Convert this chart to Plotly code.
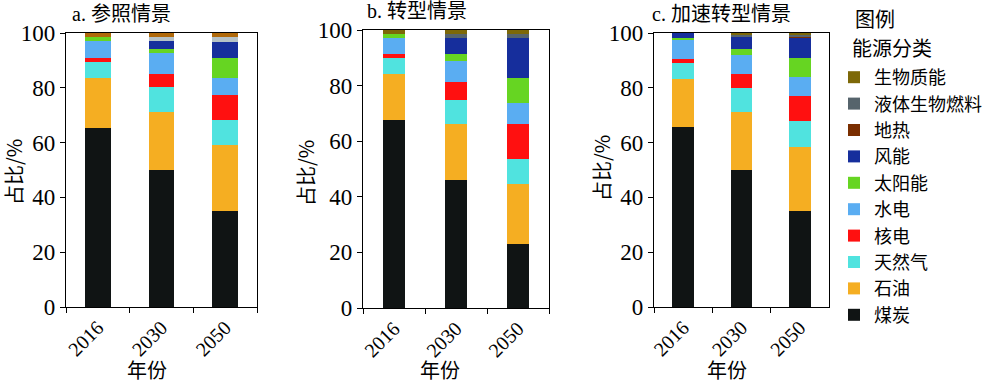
import plotly.graph_objects as go
from plotly.subplots import make_subplots

years = ["2016", "2030", "2050"]
categories = ["煤炭", "石油", "天然气", "核电", "水电", "太阳能", "风能", "地热", "液体生物燃料", "生物质能"]
colors = ["#101414", "#F5AE22", "#50E3DF", "#FF1010", "#5AADF2", "#66D522", "#162E9C", "#7A2E00", "#56646C", "#7D6808"]
colors_a = ["#101414", "#F5AE22", "#50E3DF", "#FF1010", "#5AADF2", "#66D522", "#162E9C", "#7A2E00", "#B5C1C6", "#B0690A"]

panel_titles = ["a. 参照情景", "b. 转型情景", "c. 加速转型情景"]
y_ticks = [0, 20, 40, 60, 80, 100]

# values per year, in the order of `categories`
a_2016 = [65.3, 18.1, 6.0, 1.6, 6.0, 1.5, 0.0, 0.0, 0.0, 1.5]
a_2030 = [50.0, 21.3, 8.9, 4.7, 7.7, 1.4, 2.9, 0.0, 1.6, 1.5]
a_2050 = [34.9, 24.2, 9.1, 9.1, 6.1, 7.6, 5.8, 0.0, 1.6, 1.6]

b_2016 = [67.5, 16.6, 5.7, 1.5, 5.8, 1.3, 0.0, 0.0, 0.0, 1.6]
b_2030 = [46.0, 20.1, 8.9, 6.2, 7.5, 2.7, 5.8, 0.0, 1.3, 1.5]
b_2050 = [23.2, 21.4, 9.1, 12.4, 7.7, 9.0, 14.3, 0.0, 1.4, 1.5]

c_2016 = [65.8, 17.3, 6.1, 1.3, 7.1, 0.5, 1.9, 0.0, 0.0, 0.0]
c_2030 = [50.0, 21.3, 8.5, 5.2, 7.1, 2.2, 4.1, 0.0, 0.8, 0.8]
c_2050 = [35.2, 23.2, 9.6, 9.0, 6.9, 6.9, 7.4, 0.3, 0.8, 0.7]

panels = [
    (a_2016, a_2030, a_2050),
    (b_2016, b_2030, b_2050),
    (c_2016, c_2030, c_2050),
]
panel_colors = [colors_a, colors, colors]
bar_widths = [0.4, 0.37, 0.37]

SERIF = "Liberation Serif, Noto Sans CJK SC, serif"
CJK = "Noto Sans CJK SC, Liberation Serif, sans-serif"

fig = make_subplots(rows=1, cols=3)

for p, (v16, v30, v50) in enumerate(panels):
    for k, cat in enumerate(categories):
        fig.add_trace(
            go.Bar(
                x=years,
                y=[v16[k], v30[k], v50[k]],
                name=cat,
                marker=dict(color=panel_colors[p][k], line=dict(width=0)),
                width=bar_widths[p],
                showlegend=(p == 2),
                legendrank=100 - k,
            ),
            row=1, col=p + 1,
        )

W, H = 1000, 383
# plot-area pixel boxes (left, right, top, bottom)
boxes = [(66, 257, 33, 307), (363, 549, 30, 308), (654, 829, 33, 307)]

for i, (l, r, t, b) in enumerate(boxes):
    xa = "xaxis" if i == 0 else f"xaxis{i+1}"
    ya = "yaxis" if i == 0 else f"yaxis{i+1}"
    fig.layout[xa].update(
        domain=[l / W, r / W],
        type="category",
        automargin=False,
        showline=True, linecolor="black", linewidth=1.3, mirror=True,
        ticks="outside", ticklen=5, tickwidth=1.2, tickcolor="black",
        tickson="boundaries",
        tickangle=-45,
        tickfont=dict(family=SERIF, size=20, color="black"),
        showgrid=False, zeroline=False,
    )
    fig.layout[ya].update(
        domain=[1 - b / H, 1 - t / H],
        range=[0, 100],
        tickvals=y_ticks,
        automargin=False,
        showline=True, linecolor="black", linewidth=1.3, mirror=True,
        ticks="outside", ticklen=5, tickwidth=1.2, tickcolor="black",
        tickfont=dict(family=SERIF, size=23, color="black"),
        showgrid=False, zeroline=False,
    )

annotations = []
title_pos = [(70, 14), (365, 11), (650, 14)]
for (x, y), txt in zip(title_pos, panel_titles):
    annotations.append(dict(
        text=txt, x=x / W, y=1 - y / H, xref="paper", yref="paper",
        xanchor="left", yanchor="middle", showarrow=False,
        font=dict(family=SERIF, size=20, color="black"),
    ))
ylab_pos = [(13, 172), (306, 173), (601, 168)]
for x, y in ylab_pos:
    annotations.append(dict(
        text="占比/%", x=x / W, y=1 - y / H, xref="paper", yref="paper",
        xanchor="center", yanchor="middle", showarrow=False, textangle=-90,
        font=dict(family=CJK, size=20, color="black"),
    ))
xlab_pos = [(147, 369), (440, 369), (727, 369)]
for x, y in xlab_pos:
    annotations.append(dict(
        text="年份", x=x / W, y=1 - y / H, xref="paper", yref="paper",
        xanchor="center", yanchor="middle", showarrow=False,
        font=dict(family=CJK, size=20, color="black"),
    ))
# legend heading lines
annotations.append(dict(
    text="图例", x=853 / W, y=1 - 18 / H, xref="paper", yref="paper",
    xanchor="left", yanchor="middle", showarrow=False,
    font=dict(family=CJK, size=20, color="black"),
))
annotations.append(dict(
    text="能源分类", x=850 / W, y=1 - 48 / H, xref="paper", yref="paper",
    xanchor="left", yanchor="middle", showarrow=False,
    font=dict(family=CJK, size=20, color="black"),
))

fig.update_layout(
    width=W, height=H,
    margin=dict(l=0, r=0, t=0, b=0),
    paper_bgcolor="white", plot_bgcolor="white",
    barmode="stack",
    annotations=annotations,
    legend=dict(
        x=0.834, y=1 - 59 / H, xanchor="left", yanchor="top",
        traceorder="normal",
        font=dict(family=CJK, size=18, color="black"),
        bgcolor="rgba(0,0,0,0)", borderwidth=0,
        tracegroupgap=0,
    ),
    showlegend=True,
)

fig.write_html(
    "out.html",
    config={"displayModeBar": False},
    post_script="document.body.style.margin='0';document.body.style.overflow='hidden';",
)
